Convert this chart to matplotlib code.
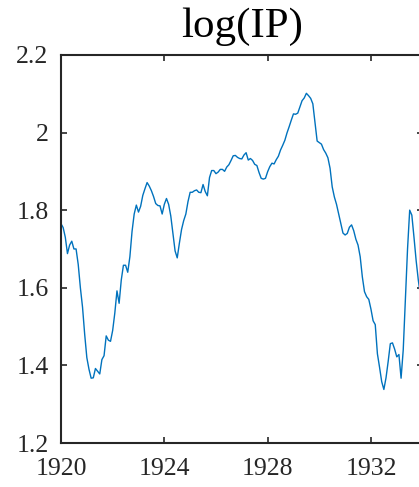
import numpy as np
import matplotlib
matplotlib.use("Agg")
import matplotlib.pyplot as plt

# monthly log industrial production, Jan 1920 onward
log_ip = [
    1.765, 1.755, 1.730, 1.688, 1.710, 1.720, 1.700, 1.700, 1.660, 1.600,
    1.550, 1.480, 1.420, 1.390, 1.367, 1.368, 1.392, 1.385, 1.378, 1.415,
    1.425, 1.476, 1.465, 1.462, 1.490, 1.535, 1.592, 1.560, 1.620, 1.658,
    1.658, 1.640, 1.680, 1.745, 1.790, 1.813, 1.795, 1.810, 1.838, 1.855,
    1.871, 1.862, 1.850, 1.835, 1.817, 1.812, 1.811, 1.790, 1.815, 1.830,
    1.815, 1.785, 1.740, 1.695, 1.677, 1.715, 1.750, 1.773, 1.790, 1.822,
    1.846, 1.846, 1.850, 1.852, 1.846, 1.845, 1.866, 1.848, 1.837, 1.884,
    1.902, 1.902, 1.894, 1.898, 1.905, 1.905, 1.900, 1.911, 1.917, 1.928,
    1.940, 1.941, 1.936, 1.933, 1.932, 1.942, 1.948, 1.929, 1.933, 1.928,
    1.918, 1.915, 1.897, 1.882, 1.880, 1.882, 1.899, 1.912, 1.921, 1.919,
    1.930, 1.939, 1.955, 1.967, 1.980, 1.999, 2.015, 2.032, 2.048, 2.047,
    2.050, 2.066, 2.082, 2.089, 2.101, 2.095, 2.088, 2.074, 2.025, 1.978,
    1.974, 1.970, 1.956, 1.947, 1.935, 1.908, 1.860, 1.834, 1.815, 1.790,
    1.765, 1.741, 1.736, 1.740, 1.756, 1.762, 1.747, 1.725, 1.710, 1.680,
    1.628, 1.590, 1.577, 1.570, 1.545, 1.515, 1.505, 1.430, 1.395, 1.358,
    1.338, 1.368, 1.410, 1.456, 1.458, 1.442, 1.422, 1.428, 1.367, 1.440,
    1.570, 1.700, 1.800, 1.787, 1.730, 1.670, 1.620, 1.580,
]
start_year = 1920
x_ticks = [1920, 1924, 1928, 1932]
y_ticks = [1.2, 1.4, 1.6, 1.8, 2.0, 2.2]
y_labels = ["1.2", "1.4", "1.6", "1.8", "2", "2.2"]

dates = start_year + np.arange(len(log_ip)) / 12.0

plt.rcParams["font.family"] = ["Liberation Serif", "DejaVu Serif"]
dark = "#262626"

fig = plt.figure(figsize=(4.19, 4.87), dpi=100)
ax = fig.add_axes([0.1456, 0.0903, 0.863, 0.797])

ax.plot(dates, log_ip, color="#0072BD", lw=1.0)

ax.set_xlim(1920, 1934)
ax.set_ylim(1.2, 2.2)
ax.set_xticks(x_ticks)
ax.set_yticks(y_ticks)
ax.set_yticklabels(y_labels)

for s in ax.spines.values():
    s.set_linewidth(1.5)
    s.set_color(dark)
ax.tick_params(direction="in", top=True, right=True, length=4, width=1.2,
               colors=dark, labelsize=18.5)
ax.tick_params(axis="x", pad=11)
ax.tick_params(axis="y", pad=9)
for lbl in ax.get_yticklabels():
    lbl.set_va("center_baseline")

ax.set_title("log(IP)", fontsize=31, color="black", pad=13)

fig.savefig("out.png", dpi=100)
